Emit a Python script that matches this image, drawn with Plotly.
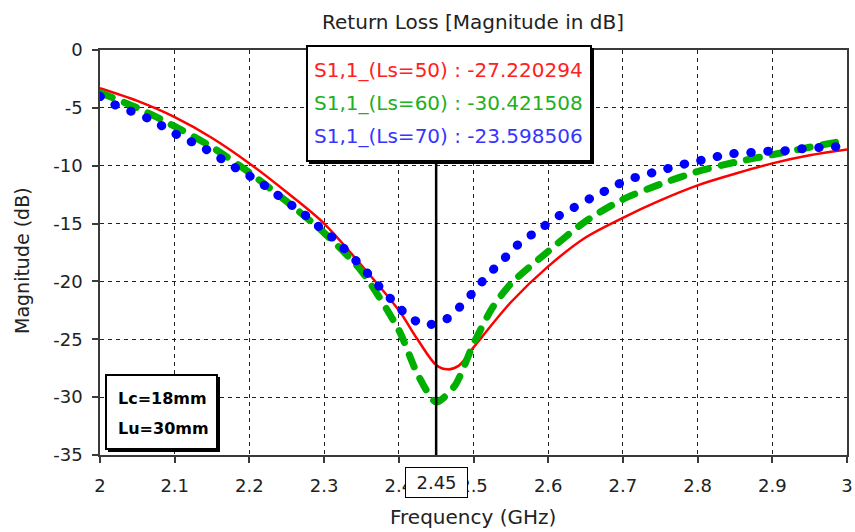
import plotly.graph_objects as go

# ---- data -------------------------------------------------------------
marker_freq = 2.45
series_names = ["S1,1_(Ls=50)", "S1,1_(Ls=60)", "S1,1_(Ls=70)"]
marker_vals = [-27.220294, -30.421508, -23.598506]

red_freq = [2.0, 2.05, 2.1, 2.15, 2.2, 2.25, 2.3, 2.35, 2.4, 2.425,
            2.45, 2.465, 2.48, 2.5, 2.55, 2.6, 2.65, 2.7, 2.75, 2.8,
            2.85, 2.9, 2.95, 3.0]
red_db = [-3.3, -4.4, -5.8, -7.6, -9.8, -12.3, -15.0, -18.6, -22.5, -25.0,
          -27.220294, -27.6, -27.3, -25.7, -21.8, -18.7, -16.2, -14.5, -13.0, -11.7,
          -10.7, -9.8, -9.1, -8.6]

green_freq = [2.0, 2.05, 2.1, 2.15, 2.2, 2.25, 2.3, 2.35, 2.4, 2.425,
              2.45, 2.475, 2.5, 2.525, 2.55, 2.6, 2.65, 2.7, 2.75, 2.8,
              2.85, 2.9, 2.95, 3.0]
green_db = [-3.7, -5.0, -6.6, -8.4, -10.6, -13.1, -15.8, -19.1, -24.2, -28.0,
            -30.421508, -29.0, -25.4, -22.3, -20.2, -17.4, -14.8, -12.9, -11.6, -10.5,
            -9.7, -9.05, -8.4, -7.8]

blue_freq = [2.0, 2.022, 2.042, 2.064, 2.087, 2.105, 2.128, 2.148, 2.167, 2.187,
             2.206, 2.227, 2.245, 2.263, 2.281, 2.299, 2.317, 2.336, 2.349, 2.362,
             2.379, 2.398, 2.414, 2.436, 2.45, 2.461, 2.477, 2.492, 2.505, 2.523,
             2.54, 2.558, 2.577, 2.595, 2.615, 2.635, 2.657, 2.679, 2.7, 2.722,
             2.746, 2.768, 2.792, 2.815, 2.839, 2.865, 2.891, 2.918, 2.945, 2.972, 3.0]
blue_db = [-4.0, -4.8, -5.3, -5.9, -6.7, -7.4, -8.1, -8.8, -9.6, -10.4,
           -11.1, -12.0, -12.9, -13.7, -14.6, -15.6, -16.5, -17.8, -18.6, -19.6,
           -20.8, -22.1, -23.1, -23.8, -23.598506, -23.4, -22.5, -21.5, -20.5, -19.2,
           -18.1, -16.9, -16.0, -15.2, -14.3, -13.6, -12.8, -12.1, -11.4, -10.9,
           -10.5, -10.1, -9.7, -9.4, -9.0, -8.9, -8.75, -8.7, -8.5, -8.4, -8.3]

x_tickvals = [2.0, 2.1, 2.2, 2.3, 2.4, 2.5, 2.6, 2.7, 2.8, 2.9, 3.0]
x_ticktext = ["2", "2.1", "2.2", "2.3", "2.4", "2.5", "2.6", "2.7", "2.8", "2.9", "3"]
y_tickvals = [0, -5, -10, -15, -20, -25, -30, -35]
y_ticktext = ["0", "-5", "-10", "-15", "-20", "-25", "-30", "-35"]

param_lines = ["Lc=18mm", "Lu=30mm"]

# ---- layout geometry (pixels) ----------------------------------------
W, H = 855, 532
ML, MR, MT, MB = 100, 8, 50, 77
PW, PH = W - ML - MR, H - MT - MB
FONT = "DejaVu Sans"
RED, GREEN, BLUE = "#ff0000", "#00b000", "#0000ff"
TEXT_RED, TEXT_GREEN, TEXT_BLUE = "#ff2020", "#20b020", "#3535ff"


def px_x(px):
    return (px - ML) / PW


def px_y(py):
    return (H - MB - py) / PH


fig = go.Figure()
fig.add_trace(go.Scatter(x=red_freq, y=red_db, mode="lines", name=series_names[0],
                         line=dict(color=RED, width=2.5, shape="spline", smoothing=0.9)))
fig.add_trace(go.Scatter(x=green_freq, y=green_db, mode="lines", name=series_names[1],
                         line=dict(color=GREEN, width=7, dash="13px,13px",
                                   shape="spline", smoothing=0.7)))
fig.add_trace(go.Scatter(x=blue_freq, y=blue_db, mode="lines", name=series_names[2],
                         cliponaxis=False,
                         line=dict(color=BLUE, width=9, dash="0.5px,16.5px",
                                   shape="spline", smoothing=0.5)))

shapes = []
# marker line at 2.45 GHz
shapes.append(dict(type="line", xref="x", yref="paper", x0=marker_freq, x1=marker_freq,
                   y0=0, y1=px_y(160), line=dict(color="black", width=2.5), layer="above"))

# value box with drop shadow
shapes.append(dict(type="rect", xref="paper", yref="paper",
                   x0=px_x(309), x1=px_x(594), y0=px_y(48), y1=px_y(164),
                   fillcolor="black", line=dict(width=0), layer="above"))
shapes.append(dict(type="rect", xref="paper", yref="paper",
                   x0=px_x(307), x1=px_x(591), y0=px_y(46), y1=px_y(161),
                   fillcolor="white", line=dict(color="black", width=2), layer="above"))

# parameter box with drop shadow
shapes.append(dict(type="rect", xref="paper", yref="paper",
                   x0=px_x(108), x1=px_x(220), y0=px_y(377), y1=px_y(452),
                   fillcolor="black", line=dict(width=0), layer="above"))
shapes.append(dict(type="rect", xref="paper", yref="paper",
                   x0=px_x(106), x1=px_x(217), y0=px_y(375), y1=px_y(449),
                   fillcolor="white", line=dict(color="black", width=2), layer="above"))

annotations = []
text_colors = [TEXT_RED, TEXT_GREEN, TEXT_BLUE]
for i, (nm, val) in enumerate(zip(series_names, marker_vals)):
    annotations.append(dict(xref="paper", yref="paper", x=px_x(312), y=px_y(70 + 33 * i),
                            xanchor="left", yanchor="middle", showarrow=False,
                            text=f"{nm} : {val:.6f}",
                            font=dict(family=FONT, size=20, color=text_colors[i])))

for i, t in enumerate(param_lines):
    annotations.append(dict(xref="paper", yref="paper", x=px_x(116), y=px_y(398 + 30 * i),
                            xanchor="left", yanchor="middle", showarrow=False,
                            text=f"<b>{t}</b>",
                            font=dict(family=FONT, size=16, color="black")))

# highlighted frequency label on the x axis
annotations.append(dict(xref="x", yref="paper", x=marker_freq, y=px_y(482.5),
                        xanchor="center", yanchor="middle", showarrow=False,
                        text=f"{marker_freq:.2f}", width=61, height=29,
                        bgcolor="white", bordercolor="black", borderwidth=1, borderpad=0,
                        font=dict(family=FONT, size=18, color="#222")))

# axis titles
annotations.append(dict(xref="paper", yref="paper", x=px_x(473), y=px_y(517),
                        xanchor="center", yanchor="middle", showarrow=False,
                        text="Frequency (GHz)",
                        font=dict(family=FONT, size=20, color="#222")))
annotations.append(dict(xref="paper", yref="paper", x=px_x(22), y=px_y(261),
                        xanchor="center", yanchor="middle", showarrow=False,
                        text="Magnitude (dB)", textangle=-90,
                        font=dict(family=FONT, size=19, color="#222")))

axis_common = dict(showline=True, linecolor="#3a3a3a", linewidth=1.5, mirror=True,
                   ticks="outside", ticklen=6, tickwidth=1.5, tickcolor="#3a3a3a",
                   showgrid=True, gridcolor="#222", gridwidth=1, griddash="4px,4px",
                   zeroline=False, automargin=False,
                   tickfont=dict(family=FONT, size=18, color="#222"))

fig.update_layout(
    width=W, height=H,
    margin=dict(l=ML, r=MR, t=MT, b=MB, autoexpand=False),
    paper_bgcolor="white", plot_bgcolor="white",
    showlegend=False,
    title=dict(text="Return Loss [Magnitude in dB]", x=(ML + px_x(473) * PW) / W,
               xanchor="center", y=1 - 22 / H, yanchor="middle",
               font=dict(family=FONT, size=20, color="#222")),
    xaxis=dict(range=[2.0, 3.0], tickvals=x_tickvals, ticktext=x_ticktext,
               ticklabelstandoff=8, **axis_common),
    yaxis=dict(range=[-35, 0], tickvals=y_tickvals, ticktext=y_ticktext,
               ticklabelstandoff=6, **axis_common),
    shapes=shapes,
    annotations=annotations,
)

# round caps give the dotted / dashed curves their rounded look
round_caps = """
document.querySelectorAll('.scatterlayer path.js-line').forEach(function (p) {
  var s = p.style.stroke;
  if (s === 'rgb(0, 0, 255)' || s === 'rgb(0, 176, 0)') {
    p.style.strokeLinecap = 'round';
  }
});
"""

fig.write_html("out.html", post_script=round_caps)
